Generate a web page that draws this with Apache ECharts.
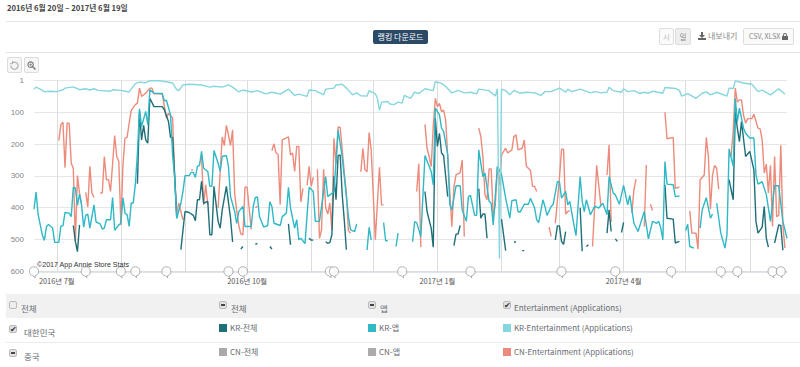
<!DOCTYPE html>
<html>
<head>
<meta charset="utf-8">
<script src="https://cdn.jsdelivr.net/npm/echarts@6/dist/echarts.min.js"></script>
<style>
  html, body { margin: 0; padding: 0; background: #fff; }
  body { width: 800px; height: 367px; overflow: hidden; position: relative;
         font-family: "Noto Sans CJK KR", "Liberation Sans", sans-serif; color: #555; }
  #chart { position: absolute; left: 0; top: 0; width: 800px; height: 294px; }
  .a { position: absolute; white-space: nowrap; }
  .rule { position: absolute; left: 6px; right: 0; height: 1px; background: #e4e4e4; }
  .btn { position: absolute; box-sizing: border-box; background: #f6f6f6; border: 1px solid #ddd;
         border-radius: 2px; text-align: center; color: #888; font-size: 7.5px; }
  .box { position: absolute; box-sizing: border-box; width: 8px; height: 8px; background: #e2e2e2;
         border: 1px solid #bbb; border-radius: 2px; font-size: 8px; line-height: 6px; text-align: center; color: #333; }
  .minus::after { content: ""; position: absolute; left: 1px; right: 1px; top: 2px; height: 2px; background: #444; }
  .sw { position: absolute; width: 8px; height: 8px; }
  .t { position: absolute; white-space: nowrap; font-size: 8px; line-height: 10px; color: #666b72; }
</style>
</head>
<body>
<div id="chart"></div>

<div class="a" style="left:7px;top:2px;font-size:7.7px;line-height:12px;font-weight:700;color:#444">2016년 6월 20일 – 2017년 6월 19일</div>
<div class="rule" style="top:21px"></div>
<div class="rule" style="top:52px"></div>
<div class="a" style="left:373px;top:30px;width:55px;height:14px;background:#2b4a66;border-radius:2px;color:#fff;font-size:8px;line-height:14px;text-align:center">랭킹 다운로드</div>
<div class="btn" style="left:659px;top:28px;width:15px;height:17px;line-height:15px;color:#bbb;background:#fafafa">시</div>
<div class="btn" style="left:675px;top:28px;width:16px;height:17px;line-height:15px;background:#eee">일</div>
<svg class="a" style="left:698px;top:32px" width="8" height="8" viewBox="0 0 8 8"><path d="M3 0h2v3h2L4 6 1 3h2zM0 6h8v2H0z" fill="#666"/></svg>
<div class="a" style="left:708px;top:29px;font-size:8px;line-height:14px;color:#888">내보내기</div>
<div class="btn" style="left:743px;top:28px;width:51px;height:17px;line-height:15px;font-size:7px;background:#fafafa">CSV, XLSX
  <svg width="6" height="7" viewBox="0 0 6 7" style="vertical-align:-1px"><path d="M1 3V2a2 2 0 0 1 4 0v1h1v4H0V3zM2 3h2V2a1 1 0 0 0-2 0z" fill="#666"/></svg></div>
<div class="btn" style="left:7px;top:57px;width:15px;height:16px">
  <svg width="9" height="9" viewBox="0 0 10 10" style="margin-top:3px"><path d="M2.4 2.2A4 4 0 1 1 1 5" fill="none" stroke="#aaa" stroke-width="1.2"/><path d="M2.8 0v3H0" fill="none" stroke="#aaa"/></svg></div>
<div class="btn" style="left:24px;top:57px;width:15px;height:16px">
  <svg width="9" height="9" viewBox="0 0 10 10" style="margin-top:3px"><circle cx="4" cy="4" r="3" fill="none" stroke="#777" stroke-width="1.2"/><path d="M6.2 6.2L9.5 9.5" stroke="#777" stroke-width="1.6"/><path d="M2.5 4h3M4 2.5v3" stroke="#777" stroke-width=".8"/></svg></div>

<div class="a" style="left:6px;right:0;top:294px;height:24px;background:#f1f1f1"></div>
<div class="a" style="left:6px;right:0;top:342px;height:1px;background:#ececec"></div>

<div class="box" style="left:9px;top:301px;background:#eee"></div>
<div class="t" style="left:21px;top:303px;font-size:8.5px">전체</div>
<div class="box minus" style="left:219px;top:301px"></div>
<div class="t" style="left:231px;top:303px;font-size:8.5px">전체</div>
<div class="box minus" style="left:368px;top:301px"></div>
<div class="t" style="left:380px;top:303px;font-size:8.5px">앱</div>
<div class="box" style="left:503px;top:301px">✔</div>
<div class="t" style="left:514px;top:303px">Entertainment (Applications)</div>

<div class="box" style="left:9px;top:325px">✔</div>
<div class="t" style="left:24px;top:327px;font-size:8.5px">대한민국</div>
<div class="sw" style="left:219px;top:324px;background:#1f6f78"></div>
<div class="t" style="left:230px;top:323px">KR-전체</div>
<div class="sw" style="left:368px;top:324px;background:#2fb8c6"></div>
<div class="t" style="left:379px;top:323px">KR-앱</div>
<div class="sw" style="left:503px;top:324px;background:#86d6de"></div>
<div class="t" style="left:514px;top:323px;font-size:7.9px">KR-Entertainment (Applications)</div>

<div class="box minus" style="left:9px;top:349px"></div>
<div class="t" style="left:24px;top:351px;font-size:8.5px">중국</div>
<div class="sw" style="left:219px;top:348px;background:#aaaaaa"></div>
<div class="t" style="left:230px;top:347px">CN-전체</div>
<div class="sw" style="left:368px;top:348px;background:#aaaaaa"></div>
<div class="t" style="left:379px;top:347px">CN-앱</div>
<div class="sw" style="left:503px;top:348px;background:#ec8b7b"></div>
<div class="t" style="left:514px;top:347px;font-size:7.9px">CN-Entertainment (Applications)</div>

<script>
// day offset from 2016-06-20, rank; null = no data
var krEnt = [[0,27],[1,21],[3,27],[5,35],[8,34],[11,35],[14,29],[15,24],[19,20],[22,29],[25,26],[27,30],[29,26],[31,31],[37,34],[38,29],[42,31],[46,36],[47,27],[49,10],[51,5],[54,7],[56,1],[60,1],[64,4],[67,8],[69,29],[70,32],
  [72,14],[75,12],[81,14],[85,21],[87,18],[91,21],[94,14],[96,21],[99,36],[101,30],[105,36],[108,32],[112,42],[115,37],[119,43],[123,27],[126,47],[128,43],[132,50],[133,30],[136,32],[140,45],[141,27],[145,24],
  [146,14],[149,12],[151,24],[154,45],[156,39],[158,48],[161,49],[162,32],[165,42],[166,56],[167,94],[168,68],[171,66],[172,74],[174,76],[176,68],[178,71],[179,47],[182,56],[184,37],[186,41],[189,26],[193,32],[194,4],[197,9],[199,19],[202,39],[205,31],[208,39],[211,37],[214,42],[215,27],
  [220,32],[223,49],[224,26],[225,560],[226,27],[228,32],[230,45],[232,31],[235,40],[238,37],[242,39],[245,47],[247,35],[250,35],[254,24],[257,37],[258,27],[260,35],[264,27],[266,32],[269,39],[271,35],[274,39],[277,37],[278,21],[280,32],[284,37],[285,26],[287,35],[290,32],
  [293,41],[295,37],[297,40],[299,34],[304,40],[305,22],[310,25],[312,31],[313,49],[316,41],[320,56],[323,40],[325,36],[327,45],[330,37],[335,49],[336,24],[338,25],[339,1],[343,8],[347,12],[350,35],[352,30],[356,45],[360,26],[363,43]];

var krApp = [[0,405],[1,351],[2,422],[4,485],[5,503],[6,460],[7,453],[9,464],[10,509],[12,509],[13,457],[14,457],[15,415],[17,417],[18,428],[19,336],[20,338],[21,393],[22,357],[23,391],[24,461],[25,424],[26,420],[27,464],[29,391],[30,445],[32,451],[33,467],[34,464],[35,438],[37,438],[38,368],[39,471],[41,454],[42,449],[43,368],[44,417],[45,422],[46,459],[47,385],[48,385],[49,325],[50,228],[51,89],[52,145],[54,97],[55,139],[56,29],[58,40],[62,41],[63,64],[64,62],[66,108],[67,234],[68,307],[69,433],[71,386],[72,349],[73,299],[75,299],[76,289],[77,289],[78,305],[79,270],[80,267],[81,223],[82,276],[84,286],[85,333],[86,333],[87,220],[89,260],[90,286],[91,239],[93,236],[94,270],[95,365],[97,412],[98,449],[99,412],[101,396],[102,459],[105,459],[106,396],[107,368],[108,366],[109,428],[111,461],[113,456],[114,381],[115,396],[116,449],[119,456],[120,428],[122,417],[123,336],[124,401],[126,464],[127,438],[128,501],[129,496],[131,513],[133,336],[135,349],[136,443],[138,443],[141,302],[142,365],[145,350],[147,156],[149,240],[152,428],[153,470],[155,475],[156,451],null,
  [161,533],[162,462],[163,501],null,[169,447],[170,504],[171,504],null,[175,522],[176,480],null,
  [183,507],[184,444],[185,447],[187,491],[189,236],[192,286],[193,328],[194,87],[196,108],[197,150],[198,160],[200,234],[201,391],[202,407],[204,331],[206,331],[207,407],[209,443],[210,365],[211,361],[213,424],[214,424],[215,218],[217,302],[218,291],[220,380],[221,386],[222,454],[224,270],[226,296],[228,370],[230,433],[231,378],[233,375],[234,412],[235,414],[237,389],[239,389],[240,370],[242,401],[243,438],[244,447],[246,375],[247,396],[248,424],[250,396],[251,389],[253,318],[254,318],[255,370],[257,349],[258,391],[259,380],[261,454],[262,488],[264,302],[265,380],[266,412],[267,375],[269,422],[271,396],[273,401],[275,386],[277,422],[278,302],[280,354],[281,359],[283,389],[285,330],[287,391],[288,361],[290,449],[292,475],[295,412],[297,498],[299,443],[301,449],[302,443],[303,464],[304,501],[305,255],[306,326],[309,328],[310,365],[312,363],null,
  [315,472],[316,452],[317,522],[319,527],null,[322,464],[323,407],[325,368],[327,433],[328,420],null,
  [330,386],[332,480],[334,527],[335,485],[336,215],[338,270],[339,56],[340,129],[341,87],[343,150],[344,166],[346,181],[348,181],[349,297],[350,326],[352,318],[354,359],[356,443],[358,331],[360,331],[362,443],[364,496]];

var krAll = [[19,456],[20,506],[21,538],[22,454],null,
  [50,325],[51,97],[52,187],[53,141],[54,187],[55,197],[56,56],[58,82],[62,82],[63,92],[65,129],[66,179],[67,179],[68,297],[69,433],null,
  [71,532],[73,412],[75,415],[77,424],[78,441],[79,375],[80,375],[81,317],[82,386],[84,380],[85,485],[86,485],[87,333],[89,443],[90,464],[91,407],[93,333],[95,433],[96,508],null,
  [100,530],[101,522],null,[107,515],[108,512],null,[114,522],[115,530],null,[123,451],[124,517],null,[133,496],[134,502],[135,502],null,
  [141,507],[142,512],[143,510],[144,485],[145,300],[146,375],[147,236],[148,234],[149,360],[150,440],[151,532],null,
  [189,349],[190,412],[192,464],[193,524],[194,118],[195,207],[196,166],[197,228],[198,236],[200,365],null,
  [203,519],[204,483],[205,483],[206,456],null,[215,340],[216,433],[217,420],[218,420],[219,496],null,
  [226,436],[228,535],null,[232,508],[233,508],null,[236,535],[237,535],null,
  [252,501],[253,457],[254,457],[255,506],[256,515],[257,475],null,[264,400],[265,537],null,[267,522],[268,517],null,
  [277,480],[278,407],[279,475],null,[281,498],[282,506],null,[284,478],[285,446],null,
  [305,328],[306,433],[309,436],[310,511],[312,506],null,
  [336,312],[338,375],[339,97],[340,150],[341,192],[342,129],[344,239],[346,223],[348,281],[349,443],[350,480],[352,461],[353,396],[354,496],[355,524],null,
  [358,511],[360,454],[361,456],[362,534]];

var cnEnt = [[12,189],[13,139],[14,131],[15,274],[16,134],[17,134],[18,260],[19,276],[20,506],[21,299],[22,354],[23,389],null,
  [25,352],[26,398],[27,270],[28,354],[29,368],null,
  [32,354],[33,354],[34,239],[35,312],[36,312],[37,349],[39,173],[40,239],[41,255],[42,454],[43,265],[44,181],[45,179],[46,134],[47,94],[49,76],[50,71],[51,24],[52,50],[54,40],[56,24],[57,24],[58,42],[62,42],[64,118],[65,103],[67,118],[68,307],[69,417],[70,386],[72,438],null,
  [76,281],[77,281],null,[81,239],[82,391],[83,328],[84,391],null,
  [89,401],[90,286],[91,177],[92,205],[93,141],[94,171],[95,205],[96,155],[97,354],[98,410],[99,456],[100,483],[101,485],[102,336],[103,335],[105,468],null,
  [107,400],[108,396],null,
  [115,220],[116,199],[117,228],[118,232],[119,391],[120,187],[123,177],[124,234],[125,228],[126,286],[127,207],[128,207],[129,382],[130,339],null,
  [132,330],[133,270],[134,333],[135,304],null,
  [137,279],[138,496],[139,470],[140,279],[141,400],[142,420],[143,385],[144,470],[145,182],[146,262],[147,147],[148,147],[149,218],[150,290],[151,355],[152,472],[153,480],null,
  [158,287],[159,213],[160,281],[161,287],[162,164],[163,219],[165,501],[166,386],[167,273],[168,391],[169,391],null,
  [185,349],[186,262],[187,524],null,
  [189,138],[190,213],[191,239],[192,271],[193,145],[194,56],[195,82],[196,72],[197,98],[198,93],[199,124],[200,239],[202,460],[203,334],[204,297],[206,290],[207,250],[208,491],null,
  [215,150],[216,176],[217,240],[218,360],[219,375],[220,278],[221,278],[222,430],[223,390],[224,273],[225,328],[226,234],[228,213],[229,228],[231,218],[232,176],[233,171],[234,218],[236,213],[237,187],[238,270],[240,283],[241,333],[242,333],[243,349],null,
  [249,461],[250,490],null,
  [252,449],[254,307],[255,216],[256,216],[257,420],[258,412],[259,409],null,
  [270,522],[271,400],[272,267],[273,330],[274,392],null,
  [277,297],[278,202],[279,445],null,
  [289,417],[290,344],[291,310],null,[295,459],[296,266],null,[298,389],[299,409],null,
  [305,100],[306,183],[309,179],[310,339],[312,335],null,
  [317,410],[318,480],[320,480],[321,530],[322,312],[324,297],[325,179],[326,239],[327,404],[328,297],[329,267],[330,276],[331,342],null,
  [336,239],[337,236],[338,160],[339,24],[340,68],[341,61],[342,61],[343,110],[344,134],[345,120],[347,120],[348,106],[350,150],[351,152],[352,187],[353,291],[354,263],[355,354],[356,267],[357,459],[358,239],[359,428],[360,424],[361,204],[362,454],[363,527]];

var pinDays = [0, 25, 42, 49, 64, 94, 101, 143, 145, 178, 211, 255, 281, 308, 332, 340, 357, 361];
var yTicks = { 0: '1', 100: '100', 200: '200', 300: '300', 400: '400', 500: '500', 600: '600' };
var quarterLabels = { '2016-07-01': '2016년 7월', '2016-10-01': '2016년 10월', '2017-01-01': '2017년 1월', '2017-04-01': '2017년 4월' };

var days = [];
var start = Date.UTC(2016, 5, 20);
for (var i = 0; i < 365; i++) {
  days.push(new Date(start + i * 86400000).toISOString().slice(0, 10));
}

function lineSeries(name, data, color) {
  return {
    name: name, type: 'line', data: data, showSymbol: false, connectNulls: false,
    animation: false, lineStyle: { color: color, width: 1.4 }, itemStyle: { color: color }
  };
}

var chart = echarts.init(document.getElementById('chart'), null, { renderer: 'svg' });
chart.setOption({
  animation: false,
  grid: { left: 34, right: 13, top: 80.5, height: 190.8 },
  xAxis: {
    type: 'category',
    data: days,
    boundaryGap: false,
    axisLine: { onZero: false, lineStyle: { color: '#d6dde4', width: 1.5 } },
    axisTick: { show: false },
    axisLabel: {
      color: '#555', fontSize: 7.4, margin: 5,
      fontFamily: '"Noto Sans CJK KR", sans-serif',
      interval: function(i, v) { return quarterLabels[v] !== undefined; },
      formatter: function(v) { return quarterLabels[v] || ''; }
    },
    splitLine: {
      show: true,
      interval: function(i, v) { return v.slice(8) === '01'; },
      lineStyle: { color: '#dcdcdc', width: 1 }
    }
  },
  yAxis: {
    type: 'value', inverse: true, min: 0, max: 600, interval: 100,
    axisLine: { show: false }, axisTick: { show: false },
    axisLabel: {
      color: '#888', fontSize: 8, margin: 10,
      fontFamily: '"Liberation Sans", sans-serif',
      formatter: function(v) { return yTicks[v]; }
    },
    splitLine: { lineStyle: { color: '#e6e6e6', width: 1 } }
  },
  graphic: [{
    type: 'text', left: 37, top: 261, z: 20,
    style: { text: '©2017 App Annie Store Stats', fill: '#333', font: '7.1px "Liberation Sans", sans-serif' }
  }],
  series: [
    lineSeries('CN-Entertainment (Applications)', cnEnt, '#ec8b7b'),
    lineSeries('KR-전체', krAll, '#1f6f78'),
    lineSeries('KR-앱', krApp, '#2fb8c6'),
    lineSeries('KR-Entertainment (Applications)', krEnt, '#86d6de'),
    {
      type: 'scatter', z: 10, animation: false, silent: true,
      symbol: 'path://M10 0A10 10 0 0 1 12 19.8L13 24L8 19.8A10 10 0 0 1 10 0Z',
      symbolSize: [9, 11], symbolOffset: [0, 1],
      itemStyle: { color: '#fff', borderColor: '#888', borderWidth: 0.8 },
      data: pinDays.map(function(d) { return [d, 600]; })
    }
  ]
});
window.addEventListener('resize', function() { chart.resize(); });
</script>
</body>
</html>
